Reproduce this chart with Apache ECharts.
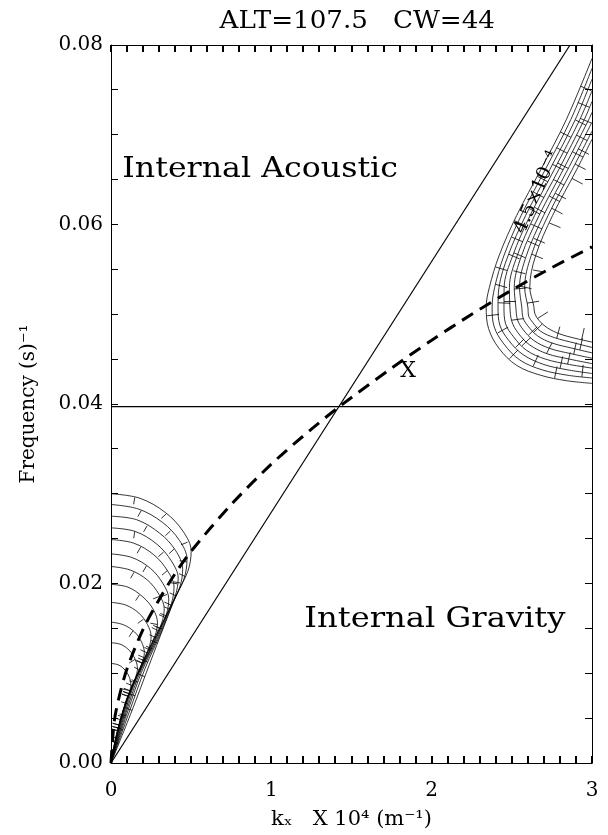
<!DOCTYPE html>
<html>
<head>
<meta charset="utf-8">
<script src="https://cdn.jsdelivr.net/npm/echarts/dist/echarts.min.js"></script>
<style>
  html, body { margin: 0; padding: 0; background: #fff; }
  #chart { width: 608px; height: 835px; }
</style>
</head>
<body>
<div id="chart"></div>
<script>
// ---- axis ranges and ticks ----
const xRange = [0, 3];
const xLabelStep = 1;
const xTickStep = 0.1;
const yRange = [0, 0.08];
const yLabelStep = 0.02;
const yTickStep = 0.005;
const titleText = 'ALT=107.5   CW=44';
const xAxisName = 'kₓ   X 10⁴ (m⁻¹)';
const yAxisName = 'Frequency (s)⁻¹';

// ---- reference lines ----
// acoustic cutoff line through the origin
const acousticLine = [[0, 0], [2.863, 0.08]];
// horizontal buoyancy frequency line
const buoyancyLevel = 0.0397;

// ---- dispersion curve (dashed) ----
const dispersionK = [0, 0.02, 0.05, 0.1, 0.2, 0.3, 0.4, 0.5, 0.75, 1.0, 1.25, 1.424, 1.75, 2.0, 2.25, 2.5, 2.75, 3.0];
const dispersionF = [0, 0.0046, 0.0073, 0.0105, 0.0149, 0.0182, 0.0211, 0.0236, 0.0288, 0.0333, 0.0372, 0.0397, 0.0440, 0.0471, 0.0500, 0.0527, 0.0552, 0.0575];

// ---- lower-left contour family (gravity-wave side) ----
const lowerContours = [
  [[0,0.0300],[0.180,0.0295],[0.340,0.0279],[0.450,0.0258],[0.500,0.0236],[0.480,0.0214],[0.410,0.0188],[0.330,0.0152],[0.240,0.0110],[0.130,0.0058],[0,0]],
  [[0,0.0288],[0.171,0.0283],[0.322,0.0268],[0.427,0.0248],[0.474,0.0227],[0.455,0.0205],[0.389,0.0180],[0.313,0.0146],[0.214,0.0106],[0.112,0.0056],[0,0]],
  [[0,0.0275],[0.161,0.0271],[0.304,0.0256],[0.402,0.0237],[0.447,0.0216],[0.429,0.0196],[0.367,0.0172],[0.290,0.0139],[0.190,0.0101],[0.096,0.0053],[0,0]],
  [[0,0.0262],[0.151,0.0258],[0.285,0.0244],[0.377,0.0225],[0.419,0.0206],[0.402,0.0187],[0.344,0.0164],[0.268,0.0133],[0.170,0.0096],[0.085,0.0051],[0,0]],
  [[0,0.0249],[0.141,0.0245],[0.267,0.0232],[0.353,0.0214],[0.393,0.0196],[0.377,0.0178],[0.322,0.0156],[0.245,0.0126],[0.151,0.0091],[0.074,0.0048],[0,0]],
  [[0,0.0233],[0.130,0.0229],[0.245,0.0217],[0.324,0.0200],[0.360,0.0183],[0.346,0.0166],[0.292,0.0146],[0.220,0.0118],[0.133,0.0085],[0.064,0.0045],[0,0]],
  [[0,0.0219],[0.120,0.0215],[0.226,0.0204],[0.299,0.0188],[0.332,0.0172],[0.316,0.0156],[0.265,0.0137],[0.198,0.0111],[0.119,0.0080],[0.056,0.0042],[0,0]],
  [[0,0.0199],[0.105,0.0196],[0.199,0.0185],[0.264,0.0171],[0.290,0.0156],[0.275,0.0142],[0.230,0.0125],[0.170,0.0101],[0.103,0.0073],[0.048,0.0038],[0,0]],
  [[0,0.0179],[0.092,0.0176],[0.174,0.0167],[0.228,0.0154],[0.250,0.0141],[0.236,0.0128],[0.196,0.0112],[0.146,0.0091],[0.089,0.0066],[0.041,0.0035],[0,0]],
  [[0,0.0157],[0.078,0.0154],[0.147,0.0146],[0.190,0.0135],[0.208,0.0123],[0.195,0.0112],[0.162,0.0098],[0.120,0.0079],[0.074,0.0058],[0.033,0.0030],[0,0]],
  [[0,0.0134],[0.063,0.0132],[0.117,0.0125],[0.152,0.0115],[0.165,0.0105],[0.154,0.0096],[0.128,0.0084],[0.095,0.0068],[0.060,0.0049],[0.027,0.0026],[0,0]],
  [[0,0.0111],[0.050,0.0109],[0.090,0.0103],[0.116,0.0095],[0.124,0.0087],[0.114,0.0079],[0.094,0.0070],[0.072,0.0056],[0.048,0.0041],[0.021,0.0021],[0,0]]
];

// ---- upper-right contour family (acoustic side) ----
const upperContours = [
  [[3.0,0.0785],[2.84,0.0717],[2.68,0.0661],[2.53,0.0610],[2.42,0.0565],[2.36,0.0530],[2.34,0.0508],[2.355,0.0484],[2.42,0.0462],[2.53,0.0443],[2.68,0.0432],[2.84,0.0426],[3.0,0.0423]],
  [[3.0,0.0774],[2.868,0.0717],[2.708,0.0661],[2.558,0.0610],[2.45,0.0565],[2.393,0.0530],[2.377,0.0508],[2.39,0.0486],[2.45,0.0467],[2.55,0.0449],[2.69,0.0438],[2.85,0.0432],[3.0,0.0429]],
  [[3.0,0.0762],[2.896,0.0717],[2.736,0.0661],[2.586,0.0610],[2.476,0.0565],[2.42,0.0530],[2.414,0.0508],[2.425,0.0488],[2.48,0.0471],[2.57,0.0455],[2.70,0.0444],[2.85,0.0438],[3.0,0.0434]],
  [[3.0,0.0749],[2.924,0.0717],[2.764,0.0661],[2.614,0.0610],[2.505,0.0565],[2.452,0.0530],[2.451,0.0508],[2.46,0.0490],[2.51,0.0475],[2.59,0.0460],[2.71,0.0450],[2.86,0.0444],[3.0,0.0440]],
  [[3.0,0.0737],[2.952,0.0717],[2.792,0.0661],[2.642,0.0610],[2.533,0.0565],[2.485,0.0530],[2.488,0.0508],[2.50,0.0492],[2.54,0.0479],[2.61,0.0466],[2.72,0.0456],[2.86,0.0450],[3.0,0.0445]],
  [[3.0,0.0725],[2.98,0.0717],[2.82,0.0661],[2.67,0.0610],[2.56,0.0565],[2.515,0.0530],[2.525,0.0508],[2.535,0.0494],[2.57,0.0483],[2.635,0.0471],[2.735,0.0462],[2.87,0.0456],[3.0,0.0451]],
  [[3.0,0.0714],[2.848,0.0661],[2.698,0.0610],[2.59,0.0565],[2.548,0.0530],[2.562,0.0508],[2.57,0.0496],[2.60,0.0487],[2.66,0.0476],[2.75,0.0468],[2.88,0.0462],[3.0,0.0457]],
  [[3.0,0.0704],[2.876,0.0661],[2.726,0.0610],[2.62,0.0565],[2.58,0.0530],[2.60,0.0508],[2.605,0.0498],[2.63,0.0491],[2.68,0.0481],[2.765,0.0474],[2.89,0.0468],[3.0,0.0463]],
  [[3.0,0.0695],[2.904,0.0661],[2.754,0.0610],[2.648,0.0565],[2.612,0.0530],[2.636,0.0510],[2.645,0.0500],[2.67,0.0493],[2.72,0.0485],[2.80,0.0478],[2.90,0.0473],[3.0,0.0469]]
];

// ---- text annotations placed in data coordinates ----
const regionLabels = [
  { text: 'Internal Acoustic', at: [0.93, 0.0661] },
  { text: 'Internal Gravity', at: [2.02, 0.0160] }
];
const crossLabel = { text: 'X', at: [1.853, 0.0436] };
const contourLabel = { text: '4.5×10⁻⁴', at: [2.657, 0.0636] };

const SERIF = '"DejaVu Serif", "Liberation Serif", serif';
const INK = '#000';
const TICK_LEN = 7;

function stepsOf(range, step) {
  const out = [];
  const n = Math.round((range[1] - range[0]) / step);
  for (let i = 0; i <= n; i++) out.push(+(range[0] + i * step).toFixed(6));
  return out;
}
const xTickValues = stepsOf(xRange, xTickStep);
const yTickValues = stepsOf(yRange, yTickStep);

// short "downhill" hatch marks along each contour, on the inner side
function hatchSeries(contours, side, spacing, len, start) {
  return {
    type: 'custom', silent: true, z: 2, clip: true,
    coordinateSystem: 'cartesian2d',
    data: contours.map(function () { return [0, 0]; }),
    renderItem: function (params, api) {
      const pts = contours[params.dataIndex].map(function (p) { return api.coord(p); });
      const children = [];
      let acc = 0;
      let next = start + (params.dataIndex % 3) * 7;
      for (let i = 1; i < pts.length; i++) {
        const a = pts[i - 1], b = pts[i];
        const dx = b[0] - a[0], dy = b[1] - a[1];
        const L = Math.hypot(dx, dy);
        if (L === 0) continue;
        while (next <= acc + L) {
          const t = (next - acc) / L;
          const px = a[0] + dx * t, py = a[1] + dy * t;
          const nx = side * -dy / L, ny = side * dx / L;
          children.push({
            type: 'line',
            shape: { x1: px, y1: py, x2: px + nx * len, y2: py + ny * len },
            style: { stroke: INK, lineWidth: 0.8 }
          });
          next += spacing;
        }
        acc += L;
      }
      return { type: 'group', children: children };
    }
  };
}

const series = [];

lowerContours.concat(upperContours).forEach(function (c) {
  series.push({
    type: 'line', data: c, showSymbol: false, smooth: 0.35,
    silent: true, z: 2,
    lineStyle: { color: INK, width: 0.8 }
  });
});
series.push(hatchSeries(lowerContours, 1, 36, 7, 24));
series.push(hatchSeries(upperContours, -1, 50, 12, 30));

series.push({
  type: 'line', data: acousticLine, showSymbol: false, silent: true, z: 3,
  lineStyle: { color: INK, width: 1.2 }
});
series.push({
  type: 'line', data: [[xRange[0], buoyancyLevel], [xRange[1], buoyancyLevel]], showSymbol: false, silent: true, z: 3,
  lineStyle: { color: INK, width: 1.2 }
});
series.push({
  type: 'line', data: dispersionK.map(function (k, i) { return [k, dispersionF[i]]; }),
  showSymbol: false, smooth: 0.3, silent: true, z: 4,
  lineStyle: { color: INK, width: 3, type: [13, 8] }
});

function axisCommon(extra) {
  return Object.assign({
    type: 'value',
    splitLine: { show: false },
    axisLine: { show: true, onZero: false, lineStyle: { color: INK, width: 1 } },
    axisTick: { show: false }
  }, extra);
}

const xBase = { min: xRange[0], max: xRange[1], interval: xLabelStep };
const yBase = { min: yRange[0], max: yRange[1], interval: yLabelStep };

const chart = echarts.init(document.getElementById('chart'), null, { renderer: 'canvas' });
chart.setOption({
  animation: false,
  backgroundColor: '#fff',
  grid: { left: 111, right: 16, top: 45, bottom: 69 },
  xAxis: [
    axisCommon(Object.assign({}, xBase, {
      position: 'bottom',
      axisLabel: {
        margin: 18, fontFamily: SERIF, fontSize: 20, color: INK, showMinLabel: true, showMaxLabel: true,
        formatter: function (v) { return String(Math.round(v)); }
      },
      name: xAxisName, nameLocation: 'middle', nameGap: 46,
      nameTextStyle: { fontFamily: SERIF, fontSize: 21, color: INK }
    })),
    axisCommon(Object.assign({}, xBase, { position: 'top', axisLabel: { show: false } }))
  ],
  yAxis: [
    axisCommon(Object.assign({}, yBase, {
      position: 'left',
      axisLabel: {
        margin: 8, fontFamily: SERIF, fontSize: 20, color: INK, showMinLabel: true, showMaxLabel: true,
        formatter: function (v) { return v.toFixed(2); }
      },
      name: yAxisName, nameLocation: 'middle', nameGap: 72, nameRotate: 90,
      nameTextStyle: { fontFamily: SERIF, fontSize: 20, color: INK }
    })),
    axisCommon(Object.assign({}, yBase, { position: 'right', axisLabel: { show: false } }))
  ],
  series: series
});

// ---- overlay: frame ticks and annotation text, positioned through the grid's scales ----
function toPx(pt) { return chart.convertToPixel({ gridIndex: 0 }, pt); }
function bar(x, y, w, h) {
  return { type: 'rect', silent: true, z: 50,
    shape: { x: x, y: y, width: w, height: h },
    style: { fill: INK } };
}

const frameTicks = [];
xTickValues.forEach(function (v) {
  const lo = toPx([v, yRange[0]]), hi = toPx([v, yRange[1]]);
  const x = Math.round(lo[0]) - 1;
  frameTicks.push(bar(x, Math.round(lo[1]) - TICK_LEN, 2, TICK_LEN));
  frameTicks.push(bar(x, Math.round(hi[1]), 2, TICK_LEN));
});
yTickValues.forEach(function (v) {
  const l = toPx([xRange[0], v]), r = toPx([xRange[1], v]);
  const y = Math.round(l[1] - 0.5);
  frameTicks.push(bar(Math.round(l[0]), y, TICK_LEN, 1));
  frameTicks.push(bar(Math.round(r[0]) - TICK_LEN, y, TICK_LEN, 1));
});

function textAt(item, size, extra) {
  const p = toPx(item.at);
  return Object.assign({
    type: 'text', x: p[0], y: p[1], z: 100, silent: true,
    style: {
      text: item.text, fill: INK, font: size + 'px ' + SERIF,
      align: 'center', verticalAlign: 'middle'
    }
  }, extra || {});
}

const cornerTL = toPx([xRange[0], yRange[1]]);
const cornerTR = toPx([xRange[1], yRange[1]]);

chart.setOption({
  graphic: frameTicks.concat([
    {
      type: 'text', silent: true, z: 100,
      x: cornerTL[0] + (cornerTR[0] - cornerTL[0]) * 0.512,
      y: cornerTL[1] - 23,
      scaleX: 1.09,
      style: {
        text: titleText, fill: INK, font: '24px ' + SERIF,
        align: 'center', verticalAlign: 'middle'
      }
    },
    textAt(regionLabels[0], 28, { scaleX: 1.13 }),
    textAt(regionLabels[1], 28, { scaleX: 1.15 }),
    textAt(crossLabel, 22),
    textAt(contourLabel, 19, { rotation: 67 * Math.PI / 180 })
  ])
});
</script>
</body>
</html>
